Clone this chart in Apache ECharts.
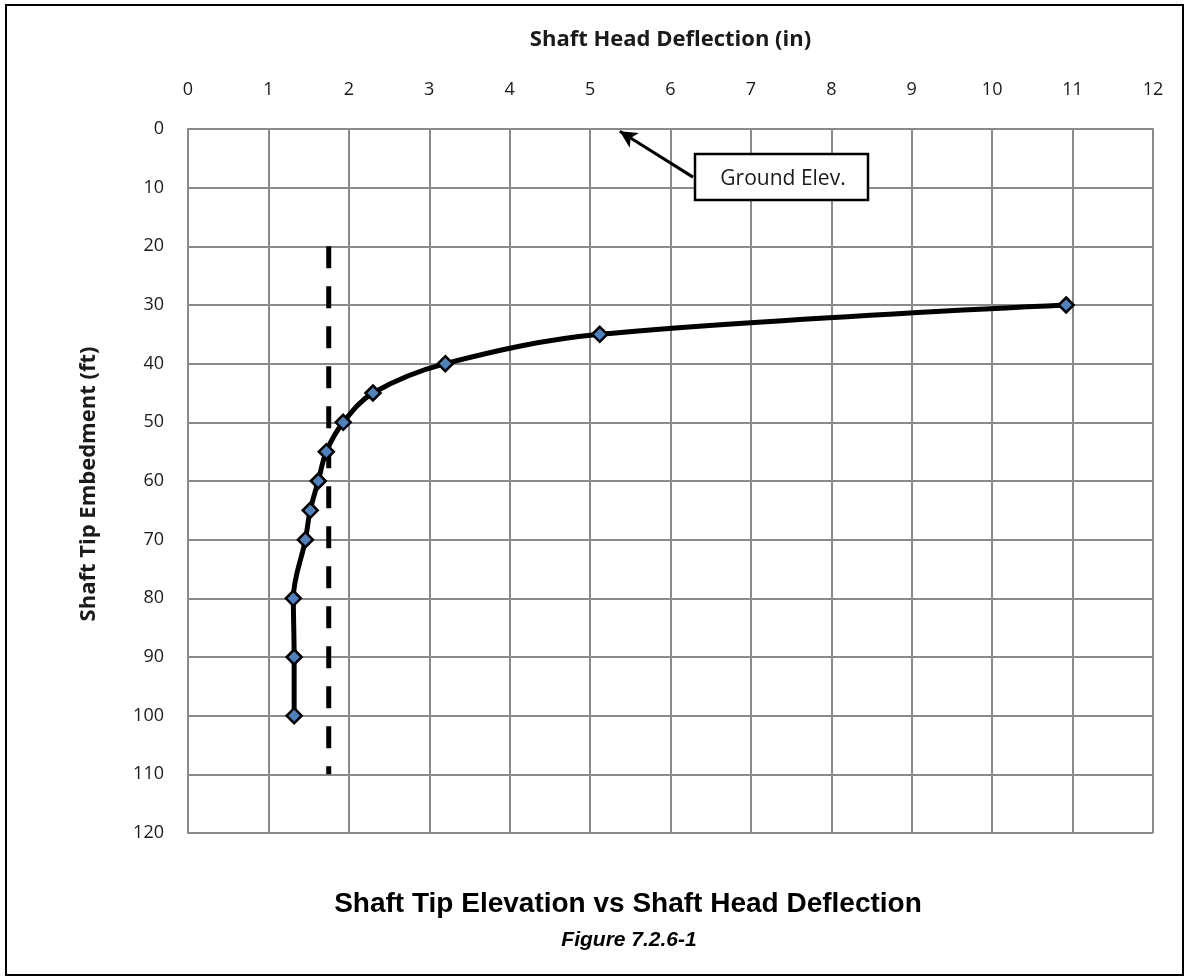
<!DOCTYPE html>
<html>
<head>
<meta charset="utf-8">
<script src="https://cdn.jsdelivr.net/npm/echarts@6/dist/echarts.min.js"></script>
<style>
  html, body { margin: 0; padding: 0; background: #fff; }
  #chart { width: 1190px; height: 980px; }
</style>
</head>
<body>
<div id="chart"></div>
<script>
// deflection (in) vs tip embedment (ft)
const deflection = [10.92, 5.12, 3.2, 2.3, 1.93, 1.72, 1.62, 1.52, 1.46, 1.31, 1.32, 1.32]
const embedment = [30, 35, 40, 45, 50, 55, 60, 65, 70, 80, 90, 100]
// vertical dashed reference line
const refDeflection = 1.75
const refDepth = [20, 110]
const xTicks = [0, 12, 1]
const yTicks = [0, 120, 10]

const curve = deflection.map((d, i) => [d, embedment[i]])
const refLine = refDepth.map(v => [refDeflection, v])

const font = '"Open Sans", sans-serif'
const gridGray = '#8a8a8a'

let myChart = echarts.init(document.getElementById('chart'))
myChart.setOption({
  animation: false,
  grid: { left: 188, top: 129, width: 965, height: 704 },
  xAxis: {
    type: 'value',
    position: 'top',
    min: xTicks[0], max: xTicks[1], interval: xTicks[2],
    name: 'Shaft Head Deflection (in)',
    nameLocation: 'middle',
    nameGap: 78,
    nameTextStyle: { fontFamily: font, fontWeight: 'bold', fontSize: 22, color: '#1a1a1a' },
    axisLine: { show: true, lineStyle: { color: gridGray, width: 2 } },
    axisTick: { show: false },
    axisLabel: { fontFamily: font, fontSize: 18, color: '#1a1a1a', margin: 30 },
    splitLine: { show: true, lineStyle: { color: gridGray, width: 2 } }
  },
  yAxis: {
    type: 'value',
    inverse: true,
    min: yTicks[0], max: yTicks[1], interval: yTicks[2],
    axisLine: { show: true, lineStyle: { color: gridGray, width: 2 } },
    axisTick: { show: false },
    axisLabel: { fontFamily: font, fontSize: 18, color: '#1a1a1a', margin: 24 },
    splitLine: { show: true, lineStyle: { color: gridGray, width: 2 } }
  },
  series: [
    {
      type: 'line',
      data: refLine,
      symbol: 'none',
      lineStyle: { color: '#000', width: 5, type: [22, 18] },
      z: 2
    },
    {
      type: 'line',
      data: curve,
      smooth: 0.35,
      symbol: 'diamond',
      symbolSize: 15,
      itemStyle: { color: '#4f81bd', borderColor: '#000', borderWidth: 2.5 },
      lineStyle: { color: '#000', width: 5 },
      z: 3,
      markLine: {
        silent: true,
        symbol: ['none', 'arrow'],
        symbolSize: [13, 17],
        lineStyle: { color: '#000', width: 3, type: 'solid' },
        label: { show: false },
        data: [[{ coord: [6.28, 8.2] }, { coord: [5.37, 0.4] }]]
      }
    }
  ],
  graphic: [
    {
      type: 'rect',
      shape: { x: 6, y: 5, width: 1177, height: 970 },
      style: { fill: 'none', stroke: '#000', lineWidth: 2 },
      silent: true
    },
    {
      type: 'text',
      x: 89, y: 484,
      rotation: Math.PI / 2,
      style: {
        text: 'Shaft Tip Embedment (ft)',
        font: 'bold 22px "Open Sans", sans-serif',
        fill: '#1a1a1a',
        align: 'center',
        verticalAlign: 'middle'
      }
    },
    {
      type: 'rect',
      shape: { x: 695, y: 154, width: 173, height: 46 },
      style: { fill: '#fff', stroke: '#000', lineWidth: 2.5 },
      z: 100
    },
    {
      type: 'text',
      x: 783, y: 179,
      z: 101,
      style: {
        text: 'Ground Elev.',
        font: '21px "Open Sans", sans-serif',
        fill: '#1a1a1a',
        align: 'center',
        verticalAlign: 'middle'
      }
    },
    {
      type: 'text',
      x: 628, y: 904,
      style: {
        text: 'Shaft Tip Elevation vs Shaft Head Deflection',
        font: 'bold 28px "Liberation Sans", Arial, sans-serif',
        fill: '#000',
        align: 'center',
        verticalAlign: 'middle'
      }
    },
    {
      type: 'text',
      x: 629, y: 940,
      style: {
        text: 'Figure 7.2.6-1',
        font: 'italic bold 21px "Liberation Sans", Arial, sans-serif',
        fill: '#000',
        align: 'center',
        verticalAlign: 'middle'
      }
    }
  ]
})
</script>
</body>
</html>
